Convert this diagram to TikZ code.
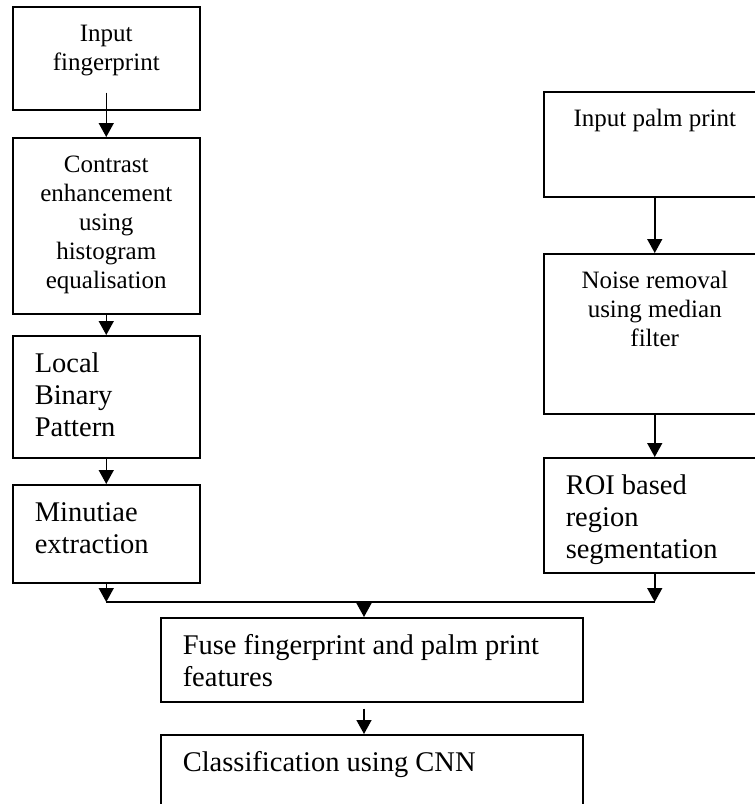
\documentclass[tikz,border=0pt]{standalone}
\usepackage{fontspec}
\setmainfont{Liberation Serif}
\usetikzlibrary{arrows.meta,calc}
\newcommand\smallfnt{\fontsize{25}{29}\selectfont}
\newcommand\bigfnt{\fontsize{28.5}{32}\selectfont}
\newcommand\cbox[3]{\parbox[c][#1][t]{#2}{\smallfnt\centering\rule{0pt}{35pt}#3\par}}
\newcommand\lbox[3]{\parbox[c][#1][t]{#2}{\bigfnt\raggedright\leftskip=22pt\rule{0pt}{37pt}#3\par}}
\begin{document}
\begin{tikzpicture}[x=1pt,y=-1pt,
  box/.style={draw, line width=1.5pt, inner sep=0pt, anchor=north west},
  arr/.style={line width=1.5pt, -{Triangle[width=15pt,length=14pt]}},
  ln/.style={line width=1.5pt}]
\useasboundingbox (0,0) rectangle (755,804);
\clip (0,0) rectangle (755,804);
\node[box] (b1) at (12,6) {\cbox{103pt}{187pt}{Input\\fingerprint}};
\node[box] (b2) at (12,137) {\cbox{176pt}{187pt}{Contrast\\enhancement\\using\\histogram\\equalisation}};
\node[box] (b3) at (12,335) {\lbox{122pt}{187pt}{Local\\Binary\\Pattern}};
\node[box] (b4) at (12,484) {\lbox{98pt}{187pt}{Minutiae\\extraction}};
\node[box] (b5) at (543,91) {\cbox{105pt}{222pt}{Input palm print}};
\node[box] (b6) at (543,253) {\cbox{160pt}{222pt}{Noise removal\\using median\\filter}};
\node[box] (b7) at (543,457) {\lbox{115pt}{222pt}{ROI based\\region\\segmentation}};
\node[box] (b8) at (160,617) {\lbox{84pt}{422pt}{Fuse fingerprint and palm print\\features}};
\node[box] (b9) at (160,734) {\lbox{100pt}{422pt}{Classification using CNN}};
\coordinate (h) at (0,602);
\coordinate (jL) at (b4.south |- h);
\coordinate (jR) at (b7.south |- h);
\coordinate (jM) at (364,602);
\coordinate (m8) at (jM |- b8.south);
\draw[arr] ([yshift=18pt]b1.south) -- (b2.north);
\draw[arr] (b2.south) -- (b3.north);
\draw[arr] (b3.south) -- (b4.north);
\draw[arr] (b5.south) -- (b6.north);
\draw[arr] (b6.south) -- (b7.north);
\draw[arr] (b4.south) -- (jL);
\draw[arr] (b7.south) -- (jR);
\draw[ln] (jL) -- (jR);
\draw[arr] (jM) -- (jM |- b8.north);
\draw[arr] ([yshift=-6pt]m8) -- (jM |- b9.north);
\end{tikzpicture}
\end{document}
